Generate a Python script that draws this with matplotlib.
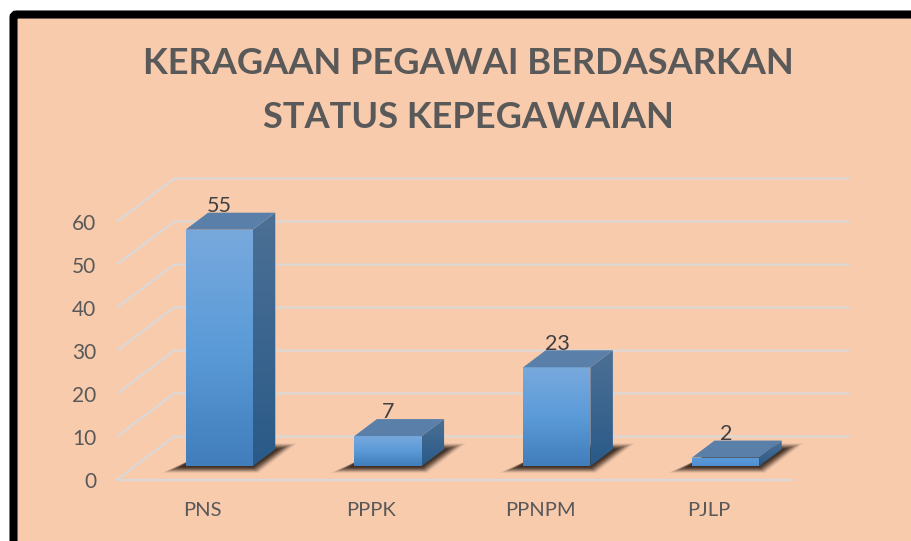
import numpy as np
from matplotlib import pyplot as plt
from matplotlib.colors import to_rgb
from matplotlib.patches import FancyBboxPatch, Polygon

plt.rcParams['font.family'] = ['Lato', 'DejaVu Sans']

title_lines = ['KERAGAAN PEGAWAI BERDASARKAN', 'STATUS KEPEGAWAIAN']
categories = ['PNS', 'PPPK', 'PPNPM', 'PJLP']
values = [55, 7, 23, 2]
y_ticks = [0, 10, 20, 30, 40, 50, 60]

W, H = 912, 541
PX_X = 168.8   # pixels for one category
PX_Y = 4.3     # pixels for one value unit
X0, Y0 = 201.5, 479.5   # pixel of category 0, value 0
DX, DY = 57 / PX_X, 10.0   # depth of the floor in data units
D_FRONT, D_BACK = 0.31, 0.705   # where the bars sit in the depth
HALF = 0.199


def proj(x, v, d):
    return x + d * DX, v + d * DY


def gradient(ax, pts, colors):
    # vertical gradient clipped to a polygon
    poly = Polygon(pts, closed=True, fc='none', ec='none', transform=ax.transData)
    ax.add_patch(poly)
    rgb = np.array([to_rgb(c) for c in colors])
    t = np.linspace(0, 1, 64)
    stops = np.linspace(0, 1, len(colors))
    img = np.stack([np.interp(t, stops, rgb[:, k]) for k in range(3)], axis=1)[:, None, :]
    xs = [p[0] for p in pts]
    ys = [p[1] for p in pts]
    im = ax.imshow(img, extent=(min(xs), max(xs), min(ys), max(ys)), aspect='auto',
                   origin='upper', zorder=4, interpolation='bilinear')
    im.set_clip_path(poly)


fig = plt.figure(figsize=(W / 100, H / 100), dpi=100, facecolor='white')

# frame and title, in pixels
bg = fig.add_axes([0, 0, 1, 1], zorder=0)
bg.set_xlim(0, W)
bg.set_ylim(H, 0)
bg.axis('off')
bg.add_patch(FancyBboxPatch((13.5, 14.5), W + 40, H + 40, boxstyle='round,pad=0,rounding_size=3',
                            fc='#F8CBAD', ec='black', lw=5.8))
bg.text(468, 63.5, title_lines[0], fontsize=26.1, fontweight='bold', color='#595959', ha='center', va='center')
bg.text(468, 117, title_lines[1], fontsize=26.1, fontweight='bold', color='#595959', ha='center', va='center')

# chart, in categories and values
ax = fig.add_axes([0, 0, 1, 1], zorder=1)
ax.patch.set_alpha(0)
ax.axis('off')
xlim = (-X0 / PX_X, (W - X0) / PX_X)
ylim = ((Y0 - H) / PX_Y, Y0 / PX_Y)

grid = '#D9D9D9'
for t in y_ticks:
    x1, y1 = proj(-0.5, t, 1)
    x2, y2 = proj(len(categories) - 0.5, t, 1)
    ax.plot([-0.5, x1, x2], [t, y1, y2], color=grid, lw=1.5, zorder=1, solid_capstyle='butt')
    ax.text(-0.5 - 21 / PX_X, t - 0.6, str(t), fontsize=15, color='#595959', ha='right', va='center')
ax.plot([-0.5, len(categories) - 0.5], [0, 0], color=grid, lw=1.5, zorder=1)

for i, (name, val) in enumerate(zip(categories, values)):
    l, r = i - HALF, i + HALF
    fl = proj(l, 0, D_FRONT)
    fr = proj(r, 0, D_FRONT)
    bl = proj(l, 0, D_BACK)
    br = proj(r, 0, D_BACK)

    # soft shadow on the floor, faint outer layers and darker ones near the bar
    for k in range(14):
        g = (13 - k) * 1.5 / PX_X
        gy = (13 - k) * 0.11
        shadow = [(fl[0] - 5 / PX_X - g, fl[1] - 0.2 - gy), (fr[0] + g * 0.3, fr[1] - 0.2 - gy),
                  (br[0] + 3 / PX_X + g, br[1] + gy), (bl[0] + g, bl[1] + gy)]
        ax.add_patch(Polygon(shadow, closed=True, fc='#2E1F16', ec='none', alpha=0.03 + 0.017 * k, zorder=2))

    ftl = proj(l, val, D_FRONT)
    ftr = proj(r, val, D_FRONT)
    btl = proj(l, val, D_BACK)
    btr = proj(r, val, D_BACK)

    # short bar only shows the light part of the gradient
    front = ['#78A9DD', '#5B9BD8', '#417EBB'] if val > 5 else ['#5B9BD8', '#5090D2']
    gradient(ax, [fl, fr, ftr, ftl], front)
    gradient(ax, [fr, br, btr, ftr], ['#4C7095', '#2A5A88'])
    ax.add_patch(Polygon([ftl, ftr, btr, btl], closed=True, fc='#5A7FA8', ec='none', zorder=5))

    ax.text(i + 18 / PX_X, btl[1] + 7.5 / PX_Y - 0.2, str(val), fontsize=15.5, color='#404040',
            ha='center', va='center', zorder=6)
    ax.text(i + 1 / PX_X, -31 / PX_Y, name, fontsize=14.5, color='#595959', ha='center', va='center')

ax.set_xlim(xlim)
ax.set_ylim(ylim)

fig.savefig('out.png', dpi=100)
